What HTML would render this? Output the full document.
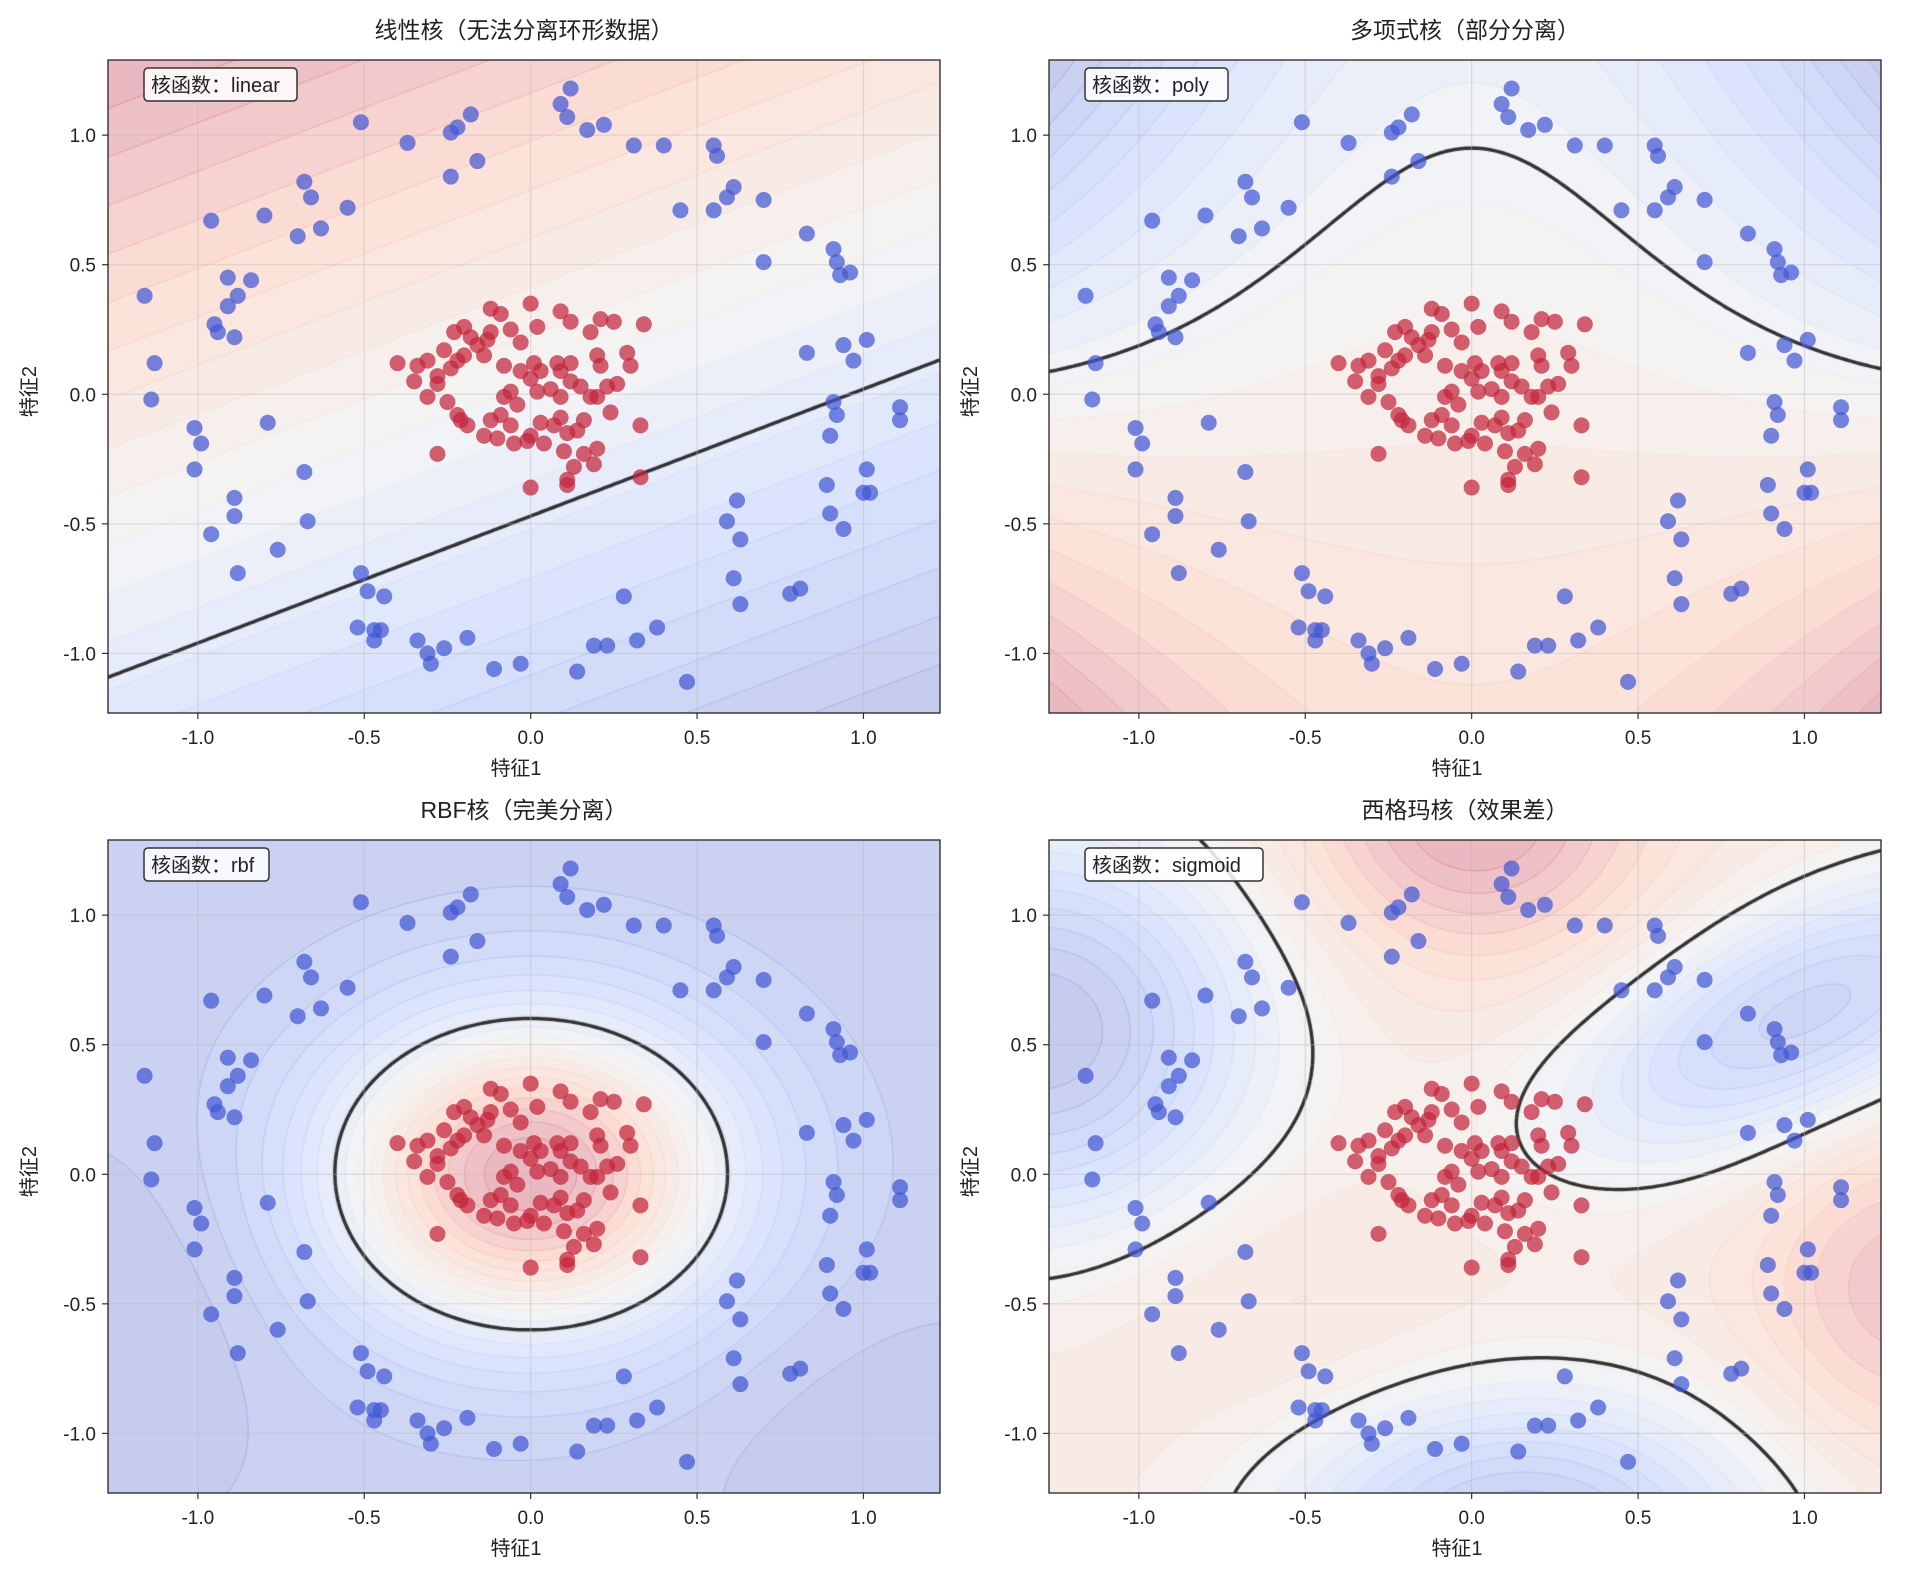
<!DOCTYPE html>
<html><head><meta charset="utf-8">
<style>
html,body{margin:0;padding:0;background:#fff;}
#wrap{position:relative;width:1910px;height:1586px;overflow:hidden;}
canvas{position:absolute;}
svg{position:absolute;left:0;top:0;}
text{font-family:"Liberation Sans","Noto Sans CJK SC",sans-serif;fill:#222;}
</style></head>
<body>
<div id="wrap">
<canvas id="c0"></canvas>
<canvas id="c1"></canvas>
<canvas id="c2"></canvas>
<canvas id="c3"></canvas>
<svg id="svg" width="1910" height="1586"></svg>
</div>
<script>
// ---- data (feature1, feature2) ----
const outerX = [-1.16,-1.13,-1.14,-1.01,-0.99,-1.01,-0.96,-0.89,-0.89,-0.88,-0.79,-0.76,-0.67,-0.68,-0.96,-0.91,-0.84,-0.88,-0.91,-0.95,-0.94,-0.89,-0.80,-0.70,-0.68,-0.66,-0.63,-0.55,-0.51,-0.37,-0.24,-0.22,-0.18,-0.24,-0.16,0.09,0.12,0.11,0.17,0.22,0.31,0.40,0.45,0.55,0.56,0.55,0.59,0.61,0.70,0.70,0.83,0.91,0.92,0.93,0.96,0.83,0.94,0.97,1.01,0.91,0.92,0.90,1.11,1.11,1.01,1.02,1.00,0.89,0.90,0.94,0.62,0.59,0.63,0.61,0.63,0.78,0.81,0.28,0.38,0.32,0.23,0.19,0.14,-0.03,-0.11,-0.19,-0.26,-0.31,-0.30,-0.34,-0.45,-0.52,-0.47,-0.47,-0.51,-0.49,-0.44,0.47];
const outerY = [0.38,0.12,-0.02,-0.13,-0.19,-0.29,-0.54,-0.40,-0.47,-0.69,-0.11,-0.60,-0.49,-0.30,0.67,0.45,0.44,0.38,0.34,0.27,0.24,0.22,0.69,0.61,0.82,0.76,0.64,0.72,1.05,0.97,1.01,1.03,1.08,0.84,0.90,1.12,1.18,1.07,1.02,1.04,0.96,0.96,0.71,0.96,0.92,0.71,0.76,0.80,0.75,0.51,0.62,0.56,0.51,0.46,0.47,0.16,0.19,0.13,0.21,-0.03,-0.08,-0.16,-0.05,-0.10,-0.29,-0.38,-0.38,-0.35,-0.46,-0.52,-0.41,-0.49,-0.56,-0.71,-0.81,-0.77,-0.75,-0.78,-0.90,-0.95,-0.97,-0.97,-1.07,-1.04,-1.06,-0.94,-0.98,-1.00,-1.04,-0.95,-0.91,-0.90,-0.95,-0.91,-0.69,-0.76,-0.78,-1.11];
const innerX = [-0.12,-0.09,0.00,0.09,0.02,0.12,0.18,0.21,0.25,0.34,0.30,0.29,0.21,0.20,0.12,0.09,0.08,0.03,0.01,-0.03,-0.08,-0.14,-0.13,-0.18,-0.20,-0.23,-0.26,-0.31,-0.34,-0.40,-0.35,-0.28,-0.24,-0.22,-0.20,-0.16,-0.12,-0.06,-0.03,0.00,0.02,0.06,0.09,0.12,0.15,0.18,0.20,0.23,0.26,0.24,0.16,0.14,0.11,0.09,0.07,0.03,0.00,0.04,0.10,0.13,0.16,0.19,0.20,0.33,0.33,0.00,0.11,0.11,-0.28,-0.21,-0.19,-0.22,-0.25,-0.31,-0.28,-0.09,-0.04,-0.06,-0.12,-0.14,-0.10,-0.08,-0.05,-0.01,-0.06];
const innerY = [0.33,0.31,0.35,0.32,0.26,0.28,0.24,0.29,0.28,0.27,0.11,0.16,0.11,0.15,0.12,0.09,0.12,0.09,0.12,0.09,0.11,0.15,0.21,0.22,0.26,0.24,0.17,0.13,0.11,0.12,0.05,0.07,0.10,0.13,0.15,0.19,0.24,0.25,0.20,0.06,0.01,0.02,-0.01,0.05,0.03,-0.01,-0.01,0.03,0.04,-0.07,-0.10,-0.14,-0.15,-0.09,-0.12,-0.11,-0.16,-0.19,-0.22,-0.28,-0.23,-0.27,-0.21,-0.12,-0.32,-0.36,-0.35,-0.33,-0.23,-0.10,-0.12,-0.08,-0.03,-0.01,0.04,-0.08,-0.04,-0.12,-0.10,-0.16,-0.17,-0.01,-0.19,-0.18,0.01];
const xTicks = [-1.0,-0.5,0.0,0.5,1.0];
const yTicks = [1.0,0.5,0.0,-0.5,-1.0];
const xTickLabels = ["-1.0","-0.5","0.0","0.5","1.0"];
const yTickLabels = ["1.0","0.5","0.0","-0.5","-1.0"];
const titles = ["线性核（无法分离环形数据）","多项式核（部分分离）","RBF核（完美分离）","西格玛核（效果差）"];
const kernels = ["linear","poly","rbf","sigmoid"];

const XMIN=-1.27,XMAX=1.23,YMIN=-1.23,YMAX=1.29;
const panels=[{l:108,t:60},{l:1049,t:60},{l:108,t:840},{l:1049,t:840}];
const W=832,H=653;

function g(x,y,cx,cy,sx,sy){return Math.exp(-((x-cx)**2/(2*sx*sx)+(y-cy)**2/(2*sy*sy)));}
function grot(x,y,cx,cy,ang,sl,ss){const c=Math.cos(ang),s=Math.sin(ang);const dx=x-cx,dy=y-cy;const u=dx*c+dy*s,v=-dx*s+dy*c;return Math.exp(-(u*u/(2*sl*sl)+v*v/(2*ss*ss)));}
const fns=[
 (x,y)=>y-0.49*x+0.47,
 (x,y)=>0.3*(0.95-y-0.55*x*x+0.1*x**4)-0.5*x*x*y,
 (x,y)=>1.5*Math.exp(-(x*x*1.03+y*y)/0.36)-0.55-0.12*g(x,y,-1.2,-0.6,0.3,0.5)-0.1*g(x,y,1.1,-1.1,0.4,0.4),
 (x,y)=>0.3+0.9*g(x,y,0.0,1.4,0.35,0.38)+0.6*g(x,y,1.3,-0.45,0.3,0.42)+0.15*g(x,y,-0.6,-0.5,0.4,0.4)
        -1.5*g(x,y,-1.3,0.55,0.47,0.55)-1.4*g(x,y,0.15,-1.4,0.52,0.4)-1.2*grot(x,y,1.0,0.62,0.6,0.6,0.28)
];

function cw(t){ // coolwarm
 const stops=[[0,59,76,192],[0.25,124,159,249],[0.5,221,221,221],[0.75,244,154,123],[1,180,4,38]];
 for(let i=0;i<4;i++){const a=stops[i],b=stops[i+1];if(t<=b[0]){const u=(t-a[0])/(b[0]-a[0]);return [a[1]+(b[1]-a[1])*u,a[2]+(b[2]-a[2])*u,a[3]+(b[3]-a[3])*u];}}
 return [180,4,38];
}
const NS="http://www.w3.org/2000/svg";
const svg=document.getElementById('svg');
function el(tag,attrs,parent){const e=document.createElementNS(NS,tag);for(const k in attrs)e.setAttribute(k,attrs[k]);(parent||svg).appendChild(e);return e;}

panels.forEach((p,k)=>{
 const sx=x=>p.l+(x-XMIN)/(XMAX-XMIN)*W;
 const sy=y=>p.t+(YMAX-y)/(YMAX-YMIN)*H;
 const f=fns[k];
 const cv=document.getElementById('c'+k);
 cv.width=W;cv.height=H;cv.style.left=p.l+'px';cv.style.top=p.t+'px';
 const ctx=cv.getContext('2d');
 const NX=200,NY=160;
 const grid=[];let mn=1e9,mx=-1e9;
 for(let j=0;j<=NY;j++){const row=[];for(let i=0;i<=NX;i++){const x=XMIN+(XMAX-XMIN)*i/NX,y=YMAX-(YMAX-YMIN)*j/NY;const v=f(x,y);row.push(v);mn=Math.min(mn,v);mx=Math.max(mx,v);}grid.push(row);}
 const img=ctx.createImageData(W,H);
 for(let py=0;py<H;py++)for(let px=0;px<W;px++){
   const x=XMIN+(XMAX-XMIN)*px/W,y=YMAX-(YMAX-YMIN)*py/H;
   let t=(f(x,y)-mn)/(mx-mn);t=Math.floor(t*20)/20+0.025;
   const c=cw(Math.min(1,t));const o=(py*W+px)*4;
   img.data[o]=0.3*c[0]+178.5;img.data[o+1]=0.3*c[1]+178.5;img.data[o+2]=0.3*c[2]+178.5;img.data[o+3]=255;
 }
 ctx.putImageData(img,0,0);
 function contour(level,stroke,lw){
  ctx.strokeStyle=stroke;ctx.lineWidth=lw;ctx.beginPath();
  const gx=i=>i*W/NX,gy=j=>j*H/NY;
  for(let j=0;j<NY;j++)for(let i=0;i<NX;i++){
   const v=[grid[j][i],grid[j][i+1],grid[j+1][i+1],grid[j+1][i]];
   const c=[[gx(i),gy(j)],[gx(i+1),gy(j)],[gx(i+1),gy(j+1)],[gx(i),gy(j+1)]];
   const pts=[];
   for(let e=0;e<4;e++){const a=v[e]-level,b=v[(e+1)%4]-level;if((a<0)!==(b<0)){const u=a/(a-b);const A=c[e],B=c[(e+1)%4];pts.push([A[0]+(B[0]-A[0])*u,A[1]+(B[1]-A[1])*u]);}}
   for(let q=0;q+1<pts.length;q+=2){ctx.moveTo(pts[q][0],pts[q][1]);ctx.lineTo(pts[q+1][0],pts[q+1][1]);}
  }
  ctx.stroke();
 }
 for(let L=1;L<20;L++){const lv=mn+(mx-mn)*L/20;const c=cw(L/20);contour(lv,`rgba(${c[0]|0},${c[1]|0},${c[2]|0},0.25)`,1);}
 contour(0,'rgba(30,30,30,0.9)',3.5);

 const g0=el('g',{});
 
 
 xTicks.forEach((t,i)=>{
  const x=sx(t);
  el('line',{x1:x,x2:x,y1:p.t,y2:p.t+H,stroke:'#bbb','stroke-opacity':0.45,'stroke-width':1.2},g0);
  el('line',{x1:x,x2:x,y1:p.t+H,y2:p.t+H+6,stroke:'#333','stroke-width':1.2},g0);
  const tx=el('text',{x:x,y:p.t+H+31,'font-size':19,'text-anchor':'middle'},g0);tx.textContent=xTickLabels[i];
  
  
 });
 yTicks.forEach((t,i)=>{
  const y=sy(t);
  el('line',{x1:p.l,x2:p.l+W,y1:y,y2:y,stroke:'#bbb','stroke-opacity':0.45,'stroke-width':1.2},g0);
  el('line',{x1:p.l-6,x2:p.l,y1:y,y2:y,stroke:'#333','stroke-width':1.2},g0);
  const tx=el('text',{x:p.l-12,y:y+7,'font-size':19,'text-anchor':'end'},g0);tx.textContent=yTickLabels[i];
  
  
 });
 outerX.forEach((x,i)=>{const c=el('circle',{cx:sx(x),cy:sy(outerY[i]),r:8,fill:'rgb(66,88,212)','fill-opacity':0.72},g0);
  });
 innerX.forEach((x,i)=>{const c=el('circle',{cx:sx(x),cy:sy(innerY[i]),r:8,fill:'rgb(196,36,58)','fill-opacity':0.72},g0);
  });
 el('rect',{x:p.l,y:p.t,width:W,height:H,fill:'none',stroke:'#222','stroke-width':1.3},g0);
 const lbl='核函数：'+kernels[k];
 const bw=[153,143,125,178][k];
 const lb=el('rect',{x:p.l+36,y:p.t+8,width:bw,height:33,rx:4,fill:'#fff','fill-opacity':0.85,stroke:'#333','stroke-width':1.5},g0);
 
 const lt=el('text',{x:p.l+43,y:p.t+32,'font-size':20},g0);lt.textContent=lbl;
 
 const tt=el('text',{x:p.l+W/2,y:p.t-22,'font-size':23,'text-anchor':'middle'},g0);tt.textContent=titles[k];
 
 const xl=el('text',{x:p.l+W/2-8,y:p.t+H+62,'font-size':20,'text-anchor':'middle'},g0);xl.textContent='特征1';
 
 const yl=el('text',{x:0,y:0,'font-size':20,'text-anchor':'middle',transform:`translate(${p.l-72},${p.t+H/2+5}) rotate(-90)`},g0);yl.textContent='特征2';
 
});
</script>
</body></html>
